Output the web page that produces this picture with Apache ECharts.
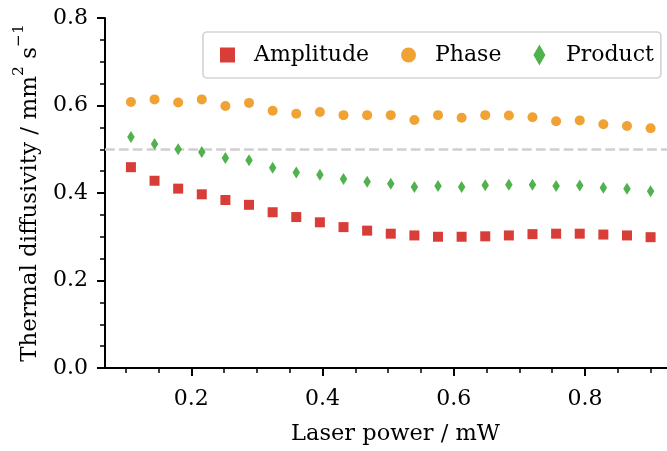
<!DOCTYPE html>
<html>
<head>
<meta charset="utf-8">
<script src="https://cdn.jsdelivr.net/npm/echarts@6/dist/echarts.min.js"></script>
<style>
  html, body { margin: 0; padding: 0; background: #ffffff; }
  #chart { width: 667px; height: 451px; }
</style>
</head>
<body>
<div id="chart"></div>
<script>
// Measured thermal diffusivity (mm^2/s) versus laser power (mW)
const laserPower = [0.108, 0.144, 0.180, 0.216, 0.252, 0.288, 0.324, 0.360, 0.396, 0.432, 0.468, 0.504,
                    0.540, 0.576, 0.612, 0.648, 0.684, 0.720, 0.756, 0.792, 0.828, 0.864, 0.900];
const amplitude = [0.459, 0.428, 0.410, 0.397, 0.384, 0.373, 0.356, 0.345, 0.333, 0.322, 0.314, 0.307,
                   0.303, 0.300, 0.300, 0.301, 0.303, 0.306, 0.307, 0.307, 0.305, 0.303, 0.299];
const phase = [0.608, 0.614, 0.607, 0.614, 0.599, 0.606, 0.588, 0.581, 0.585, 0.578, 0.578, 0.578,
               0.567, 0.578, 0.572, 0.578, 0.577, 0.573, 0.564, 0.566, 0.557, 0.553, 0.548];
const product = [0.528, 0.512, 0.500, 0.494, 0.480, 0.475, 0.458, 0.447, 0.442, 0.432, 0.426, 0.421,
                 0.414, 0.416, 0.414, 0.418, 0.419, 0.419, 0.416, 0.417, 0.412, 0.410, 0.404];

// Reference level drawn as a dashed line
const referenceLevel = 0.5;

// Axis ticks
const xMajorTicks = [0.2, 0.4, 0.6, 0.8];
const xMinorTicks = [0.1, 0.15, 0.25, 0.3, 0.35, 0.45, 0.5, 0.55, 0.65, 0.7, 0.75, 0.85, 0.9];
const seriesNames = ['Amplitude', 'Phase', 'Product'];

const FONT = 'DejaVu Serif';
const COLORS = { Amplitude: '#d83d38', Phase: '#f0a232', Product: '#50b24f' };

const pairs = (ys) => laserPower.map((x, i) => [x, ys[i]]);

const xRange = { min: 0.0685, max: 0.925 };

const baseXAxis = {
  type: 'value',
  min: xRange.min,
  max: xRange.max,
  splitLine: { show: false }
};

const option = {
  animation: false,
  backgroundColor: '#ffffff',
  textStyle: { fontFamily: FONT, color: '#000' },
  grid: { left: 105, right: 0, top: 18, bottom: 81, containLabel: false },
  legend: {
    data: [
      { name: seriesNames[0], icon: 'path://M0,0H10V10H0Z' },
      { name: seriesNames[1], icon: 'path://M10,5A5,5,0,1,1,0,5A5,5,0,1,1,10,5Z' },
      { name: seriesNames[2], icon: 'path://M6,0L12,10.5L6,21L0,10.5Z' }
    ],
    left: 203,
    top: 32,
    orient: 'horizontal',
    itemWidth: 15,
    itemHeight: 21,
    itemGap: 32,
    symbolKeepAspect: true,
    padding: [12, 7, 12, 17],
    backgroundColor: '#ffffff',
    borderColor: '#d5d5d5',
    borderWidth: 1.7,
    borderRadius: 4,
    textStyle: { fontFamily: FONT, fontSize: 22, color: '#000', padding: [0, 0, 0, 14] }
  },
  xAxis: [
    Object.assign({}, baseXAxis, {
      name: 'Laser power / mW',
      nameLocation: 'middle',
      nameGap: 55,
      nameTextStyle: { fontFamily: FONT, fontSize: 22.5, color: '#000', padding: [0, 0, 0, 19] },
      axisLine: { show: true, onZero: false, lineStyle: { color: '#000', width: 2 } },
      axisTick: { show: true, length: 8, lineStyle: { color: '#000', width: 2 }, customValues: xMajorTicks },
      axisLabel: { fontFamily: FONT, fontSize: 22, color: '#000', margin: 20,
                   customValues: xMajorTicks, formatter: (v) => v.toFixed(1) }
    }),
    Object.assign({}, baseXAxis, {
      position: 'bottom',
      axisLine: { show: false },
      axisTick: { show: true, length: 5, lineStyle: { color: '#000', width: 1.5 }, customValues: xMinorTicks },
      axisLabel: { show: false }
    })
  ],
  yAxis: {
    type: 'value',
    min: 0,
    max: 0.8,
    interval: 0.2,
    name: '{t|Thermal diffusivity / mm}{s|2}{t| s}{s|\u22121}',
    nameLocation: 'middle',
    nameGap: 63,
    nameTextStyle: {
      fontFamily: FONT, fontSize: 23, color: '#000',
      rich: {
        t: { fontFamily: FONT, fontSize: 23, color: '#000', lineHeight: 31, verticalAlign: 'bottom' },
        s: { fontFamily: FONT, fontSize: 15.5, color: '#000', lineHeight: 31, verticalAlign: 'top' }
      }
    },
    splitLine: { show: false },
    axisLine: { show: true, lineStyle: { color: '#000', width: 2 } },
    axisTick: { show: true, length: 8, lineStyle: { color: '#000', width: 2 } },
    minorTick: { show: true, splitNumber: 4, length: 5, lineStyle: { color: '#000', width: 1.5 } },
    axisLabel: { fontFamily: FONT, fontSize: 22, color: '#000', margin: 17,
                 formatter: (v) => v.toFixed(1) }
  },
  series: [
    {
      name: seriesNames[0], type: 'scatter', symbol: 'rect', symbolSize: 10,
      itemStyle: { color: COLORS.Amplitude, opacity: 1 },
      data: pairs(amplitude),
      markLine: {
        silent: true, symbol: 'none', label: { show: false },
        lineStyle: { color: '#cfcfcf', type: [9.7, 4.2], width: 2.5 },
        data: [{ yAxis: referenceLevel }],
        z: 1
      },
      z: 3
    },
    {
      name: seriesNames[1], type: 'scatter', symbol: 'circle', symbolSize: 10,
      itemStyle: { color: COLORS.Phase, opacity: 1 },
      data: pairs(phase), z: 3
    },
    {
      name: seriesNames[2], type: 'scatter', symbol: 'diamond', symbolSize: [7.5, 12],
      itemStyle: { color: COLORS.Product, opacity: 1 },
      data: pairs(product), z: 3
    }
  ]
};

const chart = echarts.init(document.getElementById('chart'), null, { renderer: 'canvas' });
chart.setOption(option);
</script>
</body>
</html>
